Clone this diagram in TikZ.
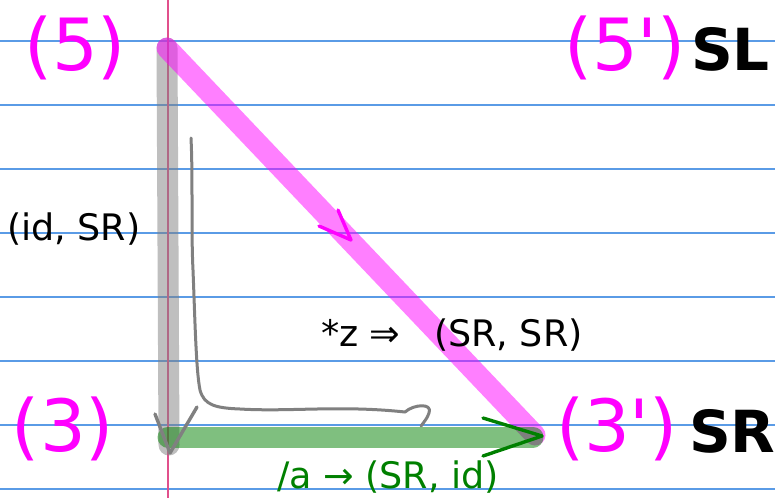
\documentclass[tikz,border=0pt]{standalone}
\usepackage{fontspec}
\setmainfont{DejaVu Sans}
\newfontfamily\dvplain{DejaVu Sans}[Ligatures=ResetAll]
\definecolor{rulec}{RGB}{90,155,230}
\definecolor{marginc}{RGB}{225,80,140}
\definecolor{grayc}{RGB}{128,128,128}
\definecolor{greenc}{RGB}{0,128,0}
\definecolor{magc}{RGB}{255,0,255}
\begin{document}
\begin{tikzpicture}[x=1pt,y=-1pt,
  rule/.style={draw=rulec, line width=1.3pt},
  margin/.style={draw=marginc, line width=1.2pt},
  band/.style={line width=21pt, line cap=round, opacity=0.5},
  tipline/.style={line width=3.4pt, line cap=round, line join=round},
  lbl/.style={anchor=base west, inner sep=0pt, outer sep=0pt},
  big/.style={lbl, text=magc, font=\dvplain\fontsize{72}{72}\selectfont},
  bold/.style={lbl, font=\fontsize{58}{58}\selectfont\bfseries},
  mid/.style={lbl, font=\fontsize{36.5}{40}\selectfont}]
\useasboundingbox (0,0) rectangle (775,498);
\fill[white] (0,0) rectangle (775,498);
% ruled paper
\foreach \y in {41,105,169,233,297,361,425,489}
  \draw[rule] (0,\y) -- (775,\y);
\draw[margin] (168,0) -- (168,498);
% endpoints
\coordinate (p5) at (167,48);
\coordinate (p3) at (169,445);
\coordinate (g3) at (168,437);
\coordinate (p3p) at (533,437);
\coordinate (m3p) at (535,435);
% thick bands
\draw[band, draw=grayc] (p5) -- (p3);
\draw[band, draw=magc] (p5) -- (m3p);
\draw[band, draw=greenc] (g3) -- (p3p);
% arrow tips
\coordinate (mt) at (351,240);
\draw[tipline, draw=magc] (319,226) -- (mt) -- (338,210);
\coordinate (gt) at (170,453);
\draw[tipline, draw=grayc] (155,414) -- (gt) -- (197,407);
\coordinate (grt) at (542,436);
\draw[tipline, draw=greenc] (483,418) -- (grt) -- (483,456);
% hand-drawn L arrow
\coordinate (cs) at (191,138);
\draw[line width=3pt, draw=grayc, line cap=round, line join=round]
  (cs) .. controls (193,180) and (191,230) .. (193,270)
  .. controls (195,320) and (196,370) .. (200,390)
  .. controls (204,405) and (215,408) .. (240,409)
  .. controls (290,412) and (340,405) .. (405,412)
  .. controls (414,404) and (433,403) .. (429,413)
  .. controls (427,418) .. (421,426);
% labels
\node[big] (l5) at (24,70) {(5)};
\node[big] (l5p) at (564,70) {(5')};
\node[bold] (lsl) at (691,70) {SL};
\node[big] (l3) at (12,451) {(3)};
\node[big] (l3p) at (556,451) {(3')};
\node[bold] (lsr) at (689,452) {SR};
\node[mid] (lid) at (7,240) {(id, SR)};
\node[mid] (lz) at (321,346) {*z ⇒};
\node[mid] (lss) at (434,346) {(SR, SR)};
\node[mid, text=greenc] (la) at (277,488) {/a → (SR, id)};
\end{tikzpicture}
\end{document}
